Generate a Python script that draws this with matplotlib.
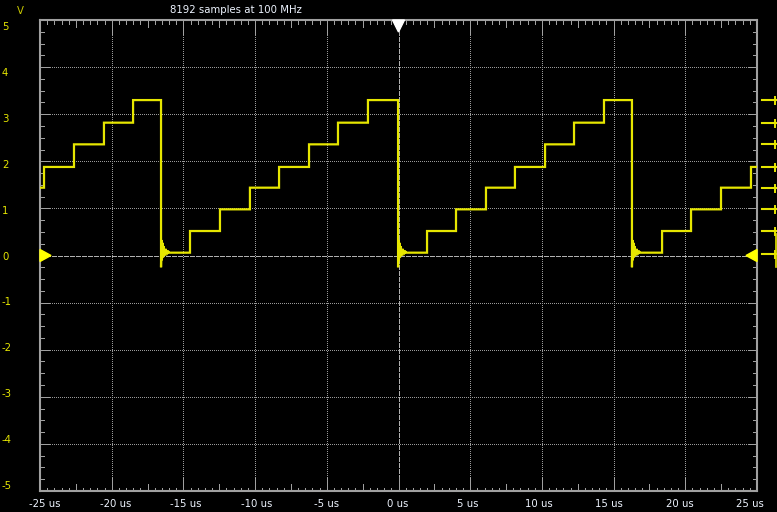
import matplotlib
matplotlib.use("Agg")
import matplotlib.pyplot as plt
from matplotlib.patches import Polygon

# ---------------- data ----------------
edge_t = [-25.0, -24.72, -22.63, -20.54, -18.51, -16.56, -14.54, -12.45, -10.36,
          -8.33, -6.24, -4.22, -2.13, -0.03, 1.99, 4.01, 6.10, 8.12, 10.22,
          12.24, 14.33, 16.28, 18.38, 20.40, 22.49, 24.58]
edge_v = [1.44, 1.88, 2.36, 2.82, 3.30, 0.06, 0.52, 0.98, 1.44, 1.88, 2.36,
          2.82, 3.30, 0.06, 0.52, 0.98, 1.44, 1.88, 2.36, 2.82, 3.30, 0.06,
          0.52, 0.98, 1.44, 1.88]
ring_dt = [0.0, 0.03, 0.06, 0.10, 0.14, 0.19, 0.25, 0.32, 0.42, 0.55]
ring_v = [-0.25, 0.33, -0.10, 0.27, -0.04, 0.20, 0.00, 0.14, 0.04, 0.09]
marker_levels = [3.30, 2.82, 2.36, 1.88, 1.44, 0.98, 0.52, 0.04]

x_ticks = [-25, -20, -15, -10, -5, 0, 5, 10, 15, 20, 25]
x_labels = ["-25 us", "-20 us", "-15 us", "-10 us", "-5 us", "0 us", "5 us",
            "10 us", "15 us", "20 us", "25 us"]
y_ticks = [5, 4, 3, 2, 1, 0, -1, -2, -3, -4, -5]
y_labels = ["5", "4", "3", "2", "1", "0", "-1", "-2", "-3", "-4", "-5"]
title = "8192 samples at 100 MHz"

# ---------------- styles ----------------
W, H = 777, 512
BG = "black"
TRACE = "#e6e600"
FRAME = "#a0a0a0"
GRID = "#9a9a9a"
YLAB = "#e6e600"
XLAB = "#eef4ff"

fig = plt.figure(figsize=(W / 100, H / 100), dpi=100, facecolor=BG)
L, R, T, B = 40, 757, 20, 491
ax = fig.add_axes([L / W, 1 - B / H, (R - L) / W, (B - T) / H], facecolor=BG)
ax.set_xlim(-25, 25)
ax.set_ylim(-5, 5)
ax.set_xticks([])
ax.set_yticks([])
for s in ax.spines.values():
    s.set_color(FRAME)
    s.set_linewidth(1.5)

px_w = 50.0 / (R - L)   # us per pixel
px_h = 10.0 / (B - T)   # V per pixel

# gridlines (dotted)
pt = 72 / 100
for xt in x_ticks[1:-1]:
    if xt == 0:
        continue
    ax.axvline(xt, color=GRID, lw=pt, dashes=(1, 2), zorder=1, antialiased=False)
for yt in y_ticks[1:-1]:
    if yt == 0:
        continue
    ax.axhline(yt, color=GRID, lw=pt, dashes=(1, 2), zorder=1, antialiased=False)
# zero lines (dashed)
ax.axvline(0, color="#b0b0b0", lw=pt, dashes=(5, 2), zorder=1, antialiased=False)
ax.axhline(0, color="#b0b0b0", lw=pt, dashes=(5, 2), zorder=1, antialiased=False)

# x ticks: every 0.5 us minor, 2.5 medium, 5 major
for k in range(-50, 51):
    xv = k * 0.5
    if k % 10 == 0:
        ln = 14
    elif k % 5 == 0:
        ln = 7
    else:
        ln = 3.5
    if abs(xv) >= 25:
        continue
    ax.plot([xv, xv], [5, 5 - ln * px_h], color=FRAME, lw=pt, zorder=2,
            solid_capstyle="butt", antialiased=False)
    ax.plot([xv, xv], [-5, -5 + ln * px_h], color=FRAME, lw=pt, zorder=2,
            solid_capstyle="butt", antialiased=False)
# y ticks: every 0.25 V minor, 1 V major
for k in range(-20, 21):
    yv = k * 0.25
    ln = 9 if k % 4 == 0 else 4
    if abs(yv) >= 5:
        continue
    ax.plot([-25, -25 + ln * px_w], [yv, yv], color=FRAME, lw=pt, zorder=2,
            solid_capstyle="butt", antialiased=False)
    ax.plot([25, 25 - ln * px_w], [yv, yv], color=FRAME, lw=pt, zorder=2,
            solid_capstyle="butt", antialiased=False)

# ---------------- trace ----------------
xs, ys = [], []
prev = None
for t, v in zip(edge_t, edge_v):
    if prev is not None:
        xs.append(t)
        ys.append(prev)
        if v < prev:
            for dt, rv in zip(ring_dt, ring_v):
                xs.append(t + dt)
                ys.append(rv)
    xs.append(t)
    ys.append(v)
    prev = v
xs.append(25.0)
ys.append(prev)
ax.plot(xs, ys, color=TRACE, lw=1.6, zorder=5, solid_joinstyle="miter")

# right side level markers (outside frame)
x0 = (762 - 398.5) * px_w
x1 = (777 - 398.5) * px_w
xs_spk = (775 - 398.5) * px_w
for lv in marker_levels:
    ax.plot([x0, x1], [lv, lv], color=TRACE, lw=1.5, clip_on=False, zorder=5)
    ax.plot([xs_spk, xs_spk], [lv - 4 * px_h, lv + 3 * px_h], color=TRACE, lw=1.4,
            clip_on=False, zorder=5)
ax.plot([xs_spk + 1.2 * px_w, xs_spk + 1.2 * px_w], [-0.25, 0.45], color=TRACE, lw=1.2,
        clip_on=False, zorder=5)

# markers: trigger triangle and ground-level arrows
tri = Polygon([[-6 * px_w, 5], [6 * px_w, 5], [0, 5 - 12 * px_h]], closed=True,
              color="white", zorder=6, clip_on=False)
ax.add_patch(tri)
la = Polygon([[-25, 6 * px_h], [-25, -6 * px_h], [-25 + 11 * px_w, 0]], closed=True,
             color="#ffff00", zorder=6, clip_on=False)
ax.add_patch(la)
ra = Polygon([[25, 6 * px_h], [25, -6 * px_h], [25 - 11 * px_w, 0]], closed=True,
             color="#ffff00", zorder=6, clip_on=False)
ax.add_patch(ra)

# ---------------- text ----------------
fs = 7.3
for i, lab in enumerate(x_labels):
    xp = 45 + i * 70.5
    fig.text(xp / W, 1 - 504 / H, lab, color=XLAB, fontsize=fs, ha="center", va="center")
for i, lab in enumerate(y_labels):
    yp = 27 + i * 45.9
    fig.text(2 / W, 1 - yp / H, lab, color=YLAB, fontsize=fs, ha="left", va="center")
fig.text(20 / W, 1 - 11 / H, "V", color="#c8c800", fontsize=fs, ha="center", va="center")
fig.text(236 / W, 1 - 10 / H, title, color=XLAB, fontsize=fs, ha="center", va="center")

fig.savefig("out.png", dpi=100, facecolor=BG)
